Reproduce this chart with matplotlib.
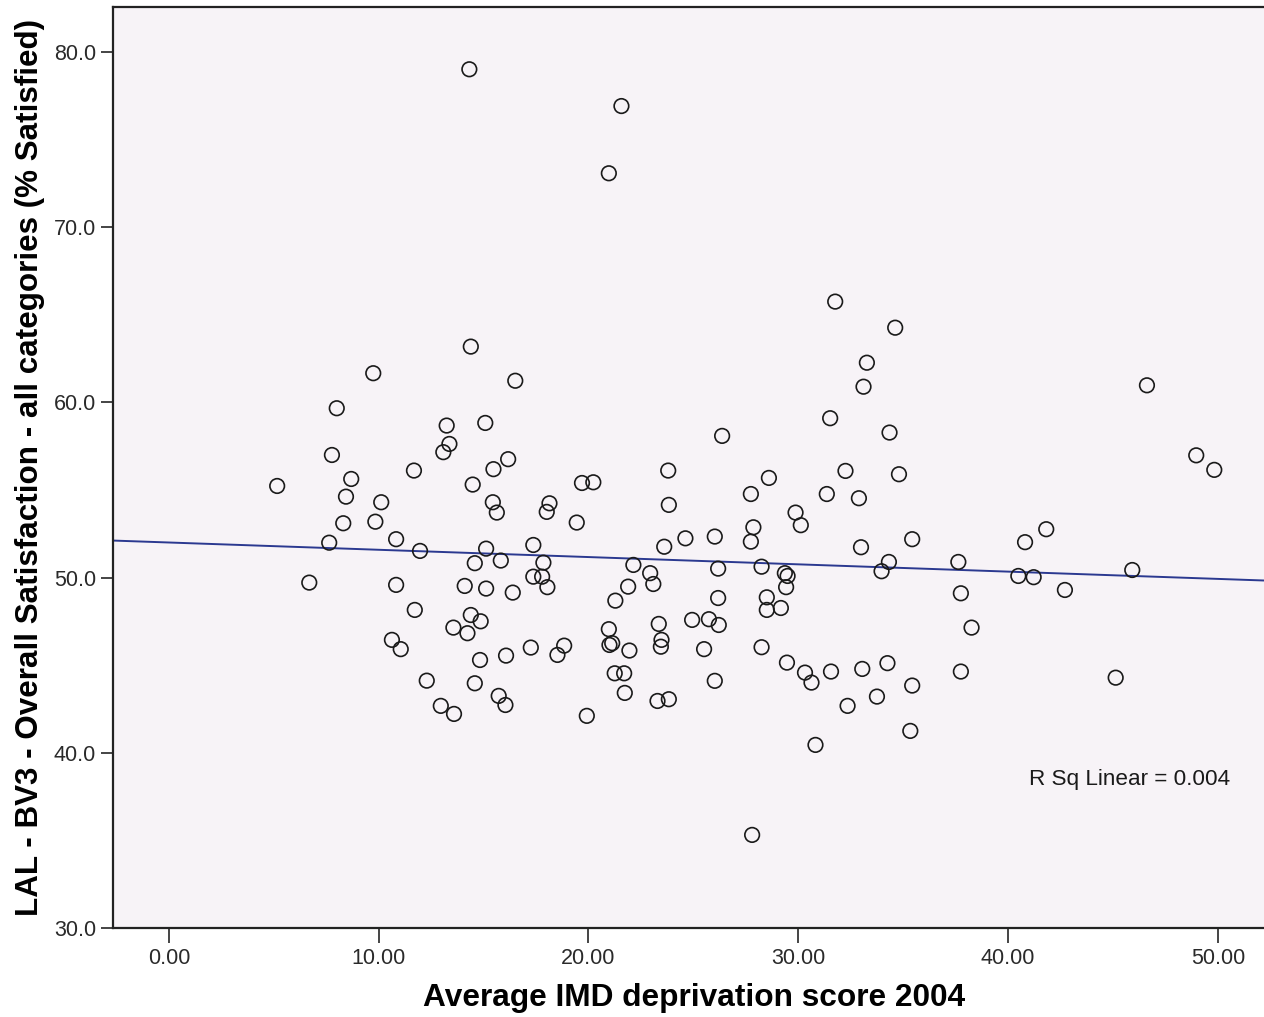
import matplotlib
matplotlib.use("Agg")
import matplotlib.pyplot as plt
from matplotlib.ticker import FormatStrFormatter
import numpy as np

plt.rcParams["font.family"] = ["Liberation Sans", "DejaVu Sans"]

# Average IMD deprivation score 2004 (x) vs overall satisfaction % (y), one point per authority
imd_score = [
    14.32, 21.57, 20.97, 31.76, 34.62,
    14.39, 9.74, 16.51, 8.00, 13.24, 15.08, 13.37, 13.08, 7.77, 11.68,
    16.17, 15.47, 5.16, 8.69, 8.44, 14.48, 19.69, 20.23, 10.12, 15.44,
    15.63, 18.14, 18.01, 8.31, 9.84, 19.44, 7.64, 10.83, 11.97, 15.12,
    17.37, 14.58, 15.82, 17.85, 6.69, 10.83, 14.10, 15.12, 16.39, 17.37,
    17.79, 18.04, 11.72, 14.39, 14.86, 13.56, 14.23, 10.63, 11.05, 14.83,
    16.07, 17.25, 18.52, 18.84, 21.00, 21.13, 12.29, 14.58, 15.72, 16.04,
    12.96, 13.59, 19.92,
    33.27, 33.11, 31.52, 34.35, 26.37, 23.80, 32.25, 34.80, 28.60, 27.74,
    31.36, 32.89, 23.83, 29.87, 30.12, 27.86, 27.74, 24.62, 26.02, 23.61,
    32.99, 35.43, 22.14, 22.94, 23.09, 21.89, 21.28, 26.18, 28.25, 29.36,
    29.49, 29.42, 34.32, 33.97, 37.63, 37.75, 26.18, 28.50, 28.50, 29.17,
    38.26, 20.97, 21.95, 23.35, 23.48, 23.45, 24.94, 25.74, 26.21, 25.51,
    28.25, 21.25, 21.70, 21.73, 26.02, 23.29, 23.83, 29.46, 30.32, 30.63,
    31.56, 33.05, 34.25, 35.43, 37.75, 32.35, 33.75, 35.34, 30.82, 27.80,
    46.62, 48.97, 49.83, 40.81, 41.82, 40.49, 41.22, 45.92, 42.71, 45.13,
]
satisfaction = [
    79.03, 76.93, 73.09, 65.76, 64.27,
    63.19, 61.67, 61.24, 59.67, 58.68, 58.83, 57.63, 57.16, 57.00, 56.11,
    56.76, 56.19, 55.23, 55.63, 54.62, 55.31, 55.40, 55.44, 54.30, 54.30,
    53.71, 54.24, 53.75, 53.10, 53.19, 53.14, 51.99, 52.19, 51.52, 51.65,
    51.86, 50.82, 50.97, 50.85, 49.71, 49.58, 49.52, 49.37, 49.14, 50.05,
    50.05, 49.45, 48.15, 47.86, 47.50, 47.14, 46.82, 46.44, 45.91, 45.29,
    45.54, 46.00, 45.58, 46.11, 46.15, 46.25, 44.11, 43.96, 43.24, 42.72,
    42.67, 42.21, 42.10,
    62.27, 60.90, 59.10, 58.28, 58.09, 56.11, 56.09, 55.90, 55.69, 54.77,
    54.77, 54.53, 54.15, 53.71, 52.99, 52.87, 52.05, 52.24, 52.34, 51.76,
    51.73, 52.19, 50.72, 50.25, 49.63, 49.48, 48.68, 50.51, 50.62, 50.25,
    50.09, 49.45, 50.89, 50.36, 50.89, 49.10, 48.83, 48.87, 48.15, 48.26,
    47.14, 47.05, 45.83, 47.35, 46.44, 46.05, 47.58, 47.62, 47.29, 45.91,
    46.02, 44.53, 44.53, 43.41, 44.10, 42.95, 43.05, 45.14, 44.57, 44.00,
    44.63, 44.78, 45.11, 43.83, 44.63, 42.67, 43.20, 41.24, 40.44, 35.30,
    60.98, 56.98, 56.15, 52.02, 52.76, 50.09, 50.02, 50.43, 49.29, 44.28,
]

x_ticks = [0, 10, 20, 30, 40, 50]
y_ticks = [30, 40, 50, 60, 70, 80]
r_sq_label = "R Sq Linear = 0.004"

x = np.array(imd_score)
y = np.array(satisfaction)
slope, intercept = np.polyfit(x, y, 1)

W, H = 1264, 1017
fig = plt.figure(figsize=(W / 100, H / 100), dpi=100)
fig.patch.set_facecolor("white")
ax = fig.add_axes([112.7 / W, 1 - 927.7 / H, (W - 112.7) / W, (927.7 - 7.3) / H])
ax.set_facecolor("#F7F3F7")

xmin, xmax = -2.68, 52.2
ax.set_xlim(xmin, xmax)
ax.set_ylim(30, 82.57)

# fit line across the whole axis range
xl = np.array([xmin, xmax])
ax.plot(xl, intercept + slope * xl, color="#2B3990", linewidth=1.4, zorder=2)

ax.scatter(x, y, s=110, facecolors="none", edgecolors="#1a1a1a",
           linewidths=1.2, zorder=3)

ax.set_xticks(x_ticks)
ax.set_yticks(y_ticks)
ax.xaxis.set_major_formatter(FormatStrFormatter("%.2f"))
ax.yaxis.set_major_formatter(FormatStrFormatter("%.1f"))
ax.tick_params(axis="x", length=10.5, width=1.4, color="#444444",
               labelsize=15.5, labelcolor="#2a2a2a", pad=4)
ax.tick_params(axis="y", length=9, width=1.4, color="#444444",
               labelsize=15.5, labelcolor="#2a2a2a", pad=3)

for side in ["left", "bottom", "top"]:
    ax.spines[side].set_linewidth(1.6)
    ax.spines[side].set_color("#222222")
ax.spines["right"].set_visible(False)

ax.text(0.9705, 0.1605, r_sq_label, transform=ax.transAxes,
        ha="right", va="center", fontsize=16.2, color="#1a1a1a")

fig.text(694 / W, 1 - 998 / H, "Average IMD deprivation score 2004",
         ha="center", va="center", fontsize=22.8, fontweight="bold")
fig.text(30 / W, 1 - 467 / H,
         "LAL - BV3 - Overall Satisfaction - all categories (% Satisfied)",
         ha="center", va="center", rotation=90, fontsize=22.6, fontweight="bold")

fig.savefig("out.png", dpi=100, facecolor="white")
